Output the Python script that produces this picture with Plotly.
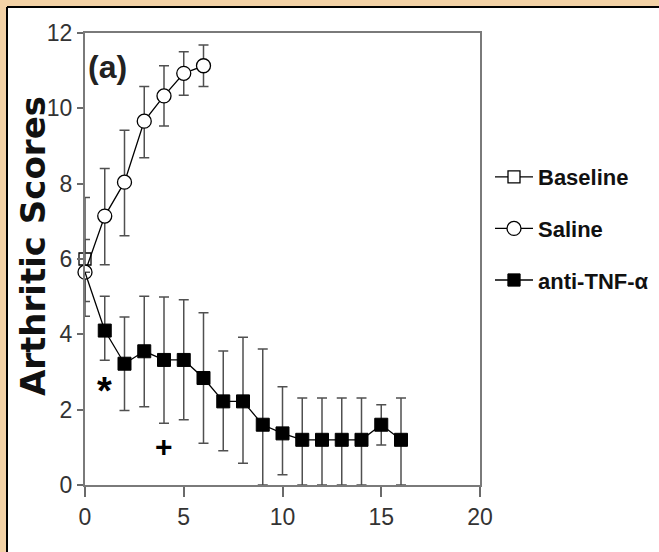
import plotly.graph_objects as go

# ---- data ----
baseline_x = [0]
baseline_y = [6.0]
baseline_up = [0.52]
baseline_dn = [1.13]

saline_x = [0, 1, 2, 3, 4, 5, 6]
saline_y = [5.65, 7.14, 8.04, 9.66, 10.33, 10.93, 11.13]
saline_up = [1.98, 1.26, 1.38, 0.92, 0.80, 0.57, 0.55]
saline_dn = [1.17, 1.29, 1.42, 0.97, 0.80, 0.58, 0.55]

tnf_x = [0, 1, 2, 3, 4, 5, 6, 7, 8, 9, 10, 11, 12, 13, 14, 15, 16]
tnf_y = [5.65, 4.10, 3.22, 3.55, 3.32, 3.32, 2.84, 2.22, 2.22, 1.60, 1.37, 1.20, 1.20, 1.20, 1.20, 1.60, 1.20]
tnf_up = [0, 0.91, 1.24, 1.46, 1.67, 1.60, 1.73, 1.34, 1.70, 2.01, 1.24, 1.11, 1.11, 1.11, 1.11, 0.53, 1.11]
tnf_dn = [0, 0.79, 1.24, 1.47, 1.68, 1.59, 1.73, 1.31, 1.64, 1.60, 1.10, 1.20, 1.20, 1.20, 1.20, 0.54, 1.20]
tnf_marker_size = [0] + [13] * 16

x_ticks = [0, 5, 10, 15, 20]
y_ticks = [0, 2, 4, 6, 8, 10, 12]

L, R, T, B = 85, 179, 33, 67
W, H = 659, 552
pw, ph = W - L - R, H - T - B

def px_x(p):
    return (p - L) / pw

def px_y(p):
    return (H - B - p) / ph

FONT = "Liberation Sans, Arial, sans-serif"
err_style = dict(type="data", symmetric=False, color="#505050", thickness=1.5, width=5)

fig = go.Figure()
fig.add_trace(go.Scatter(
    x=baseline_x, y=baseline_y, name="Baseline", mode="lines+markers",
    line=dict(color="black", width=1.3),
    marker=dict(symbol="square", size=12, color="white", line=dict(color="black", width=1.3)),
    error_y=dict(array=baseline_up, arrayminus=baseline_dn, **err_style),
    cliponaxis=False, legendgroup="b",
))
fig.add_trace(go.Scatter(
    x=saline_x, y=saline_y, name="Saline", mode="lines+markers",
    line=dict(color="black", width=1.3),
    marker=dict(symbol="circle", size=14, color="white", line=dict(color="black", width=1.3)),
    error_y=dict(array=saline_up, arrayminus=saline_dn, **err_style),
    cliponaxis=False, legendgroup="s",
))
fig.add_trace(go.Scatter(
    x=tnf_x, y=tnf_y, name="anti-TNF-α", mode="lines+markers",
    line=dict(color="black", width=1.3),
    marker=dict(symbol="square", size=tnf_marker_size, color="black", opacity=1,
                line=dict(color="black", width=1)),
    error_y=dict(array=tnf_up, arrayminus=tnf_dn, **err_style),
    cliponaxis=False, legendgroup="t",
))

axis_common = dict(
    showgrid=False, zeroline=False, showline=True, linecolor="#7a7a7a", linewidth=2,
    mirror=True, ticks="outside", tickcolor="#6a6a6a", tickwidth=1.5,
    tickfont=dict(family=FONT, size=23, color="#333"),
)
fig.update_xaxes(range=[0, 20], tickvals=x_ticks, ticklen=10, **axis_common)
fig.update_yaxes(range=[0, 12], tickvals=y_ticks, ticklen=6, **axis_common)

fig.add_annotation(x=1.16, y=11.09, text="<b>(a)</b>", showarrow=False,
                   font=dict(family=FONT, size=32, color="#222"))
fig.add_annotation(x=1, y=2.5, text="<b>*</b>", showarrow=False,
                   font=dict(family=FONT, size=38, color="black"))
fig.add_annotation(x=4, y=1.02, text="<b>+</b>", showarrow=False,
                   font=dict(family=FONT, size=30, color="black"))
fig.add_annotation(xref="paper", yref="paper", x=px_x(33), y=px_y(246),
                   xanchor="center", yanchor="middle",
                   text="<b>Arthritic Scores</b>", textangle=-90, showarrow=False,
                   font=dict(family="DejaVu Sans", size=34, color="#111"))

# frame: tan page border on top/left, white card
fig.add_shape(type="rect", xref="paper", yref="paper", layer="below",
              x0=px_x(8), x1=px_x(W + 5), y0=px_y(H + 5), y1=px_y(8),
              fillcolor="white", line=dict(width=0))
fig.add_shape(type="line", xref="paper", yref="paper", layer="below",
              x0=px_x(7), x1=px_x(W + 5), y0=px_y(7), y1=px_y(7),
              line=dict(color="black", width=2))
fig.add_shape(type="line", xref="paper", yref="paper", layer="below",
              x0=px_x(7), x1=px_x(7), y0=px_y(7), y1=px_y(H + 5),
              line=dict(color="black", width=2))

fig.update_layout(
    width=W, height=H,
    margin=dict(l=L, r=R, t=T, b=B, autoexpand=False),
    paper_bgcolor="#F3D2A6", plot_bgcolor="white",
    showlegend=True,
    legend=dict(x=px_x(490), y=px_y(156), xanchor="left", yanchor="top",
                bgcolor="rgba(0,0,0,0)", tracegroupgap=20, itemwidth=38,
                traceorder="grouped",
                font=dict(family=FONT, size=22, color="#111", weight="bold")),
)

fig.write_html("out.html")
